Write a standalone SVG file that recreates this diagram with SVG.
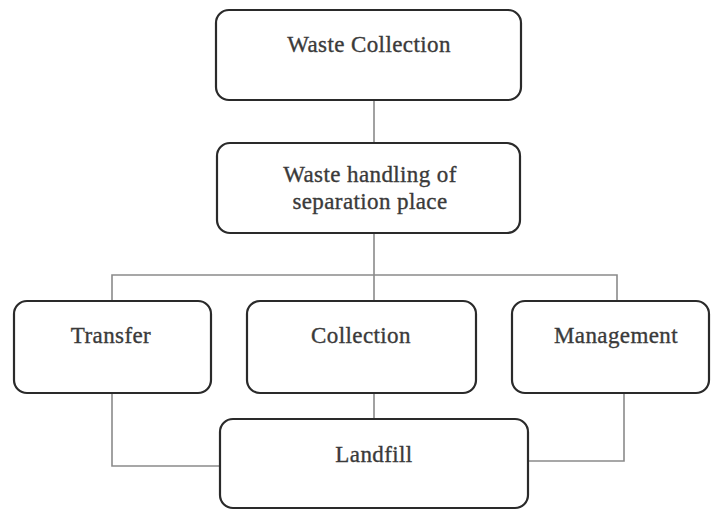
<svg xmlns="http://www.w3.org/2000/svg" width="711" height="510" viewBox="0 0 711 510">
<style>
.box{fill:#fff;stroke:#2a2a2a;stroke-width:2.2}
.conn{fill:none;stroke:#8a8a8a;stroke-width:1.6}
text{font-family:"Liberation Serif","Times New Roman",serif;font-size:23px;letter-spacing:0.4px;fill:#3a3a3a;stroke:#3a3a3a;stroke-width:0.35;text-anchor:middle}
</style>
<rect width="711" height="510" fill="#fff"/>
<g id="connectors">
<path class="conn" d="M374 100V143"/>
<path class="conn" d="M374 233V419"/>
<path class="conn" d="M112 301V275H617V301"/>
<path class="conn" d="M112 393V466H220"/>
<path class="conn" d="M624 393V461H528"/>
</g>
<g id="waste-collection">
<rect class="box" x="216" y="10" width="305" height="90" rx="13"/>
<text x="369" y="52">Waste Collection</text>
</g>
<g id="waste-handling">
<rect class="box" x="217" y="143" width="303" height="90" rx="13"/>
<text x="370" y="182">Waste handling of</text>
<text x="370" y="209">separation place</text>
</g>
<g id="transfer">
<rect class="box" x="14" y="301" width="197" height="92" rx="13"/>
<text x="111" y="343">Transfer</text>
</g>
<g id="collection">
<rect class="box" x="247" y="301" width="229" height="92" rx="13"/>
<text x="361" y="343">Collection</text>
</g>
<g id="management">
<rect class="box" x="512" y="301" width="197" height="92" rx="13"/>
<text x="616" y="343">Management</text>
</g>
<g id="landfill">
<rect class="box" x="220" y="419" width="308" height="89" rx="13"/>
<text x="374" y="462">Landfill</text>
</g>
</svg>
